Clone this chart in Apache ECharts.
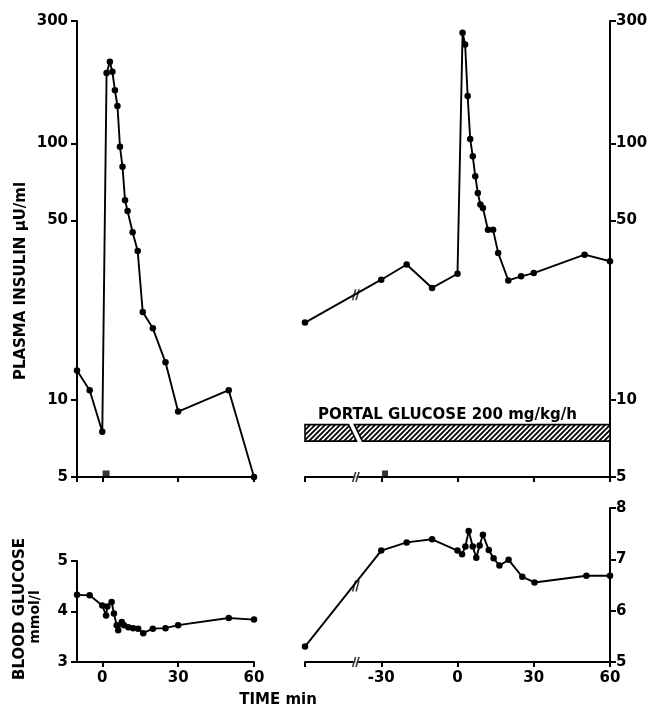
<!DOCTYPE html>
<html>
<head>
<meta charset="utf-8">
<script src="https://cdn.jsdelivr.net/npm/echarts@6/dist/echarts.min.js"></script>
<style>
  html, body { margin: 0; padding: 0; background: #fff; }
  #chart { width: 652px; height: 707px; }
</style>
</head>
<body>
<div id="chart"></div>
<script>
// plasma insulin, control run (min / µU/ml)
let insLeftTime = [-10, -5, 0, 1.7, 3, 4, 5, 6, 7, 8, 9, 10, 12, 14, 16, 20, 25, 30, 50, 60];
let insLeftValue = [13, 10.9, 7.5, 188, 208, 190, 161, 140, 97, 81, 60, 54.5, 45, 38, 22, 19, 14, 9.0, 10.9, 5];

// plasma insulin, portal glucose run
let insRightTime = [-60, -30, -20, -10, 0, 2, 3, 4, 5, 6, 7, 8, 9, 10, 12, 14, 16, 20, 25, 30, 50, 60];
let insRightValue = [20, 29.4, 33.7, 27.3, 31, 270, 243, 153, 104, 89, 74.5, 64, 57.7, 56, 46, 46, 37.4, 29.2, 30.3, 31.2, 36.8, 34.7];

// blood glucose, control run (mmol/l)
let gluLeftTime = [-10, -5, 0, 1.5, 2, 3.7, 4.6, 5.7, 6.3, 7.7, 8.6, 10.3, 12.2, 14.2, 16.2, 20, 25, 30, 50, 60];
let gluLeftValue = [4.33, 4.32, 4.12, 3.92, 4.1, 4.19, 3.96, 3.73, 3.63, 3.79, 3.73, 3.69, 3.67, 3.66, 3.57, 3.66, 3.67, 3.73, 3.87, 3.84];

// blood glucose, portal glucose run
let gluRightTime = [-60, -30, -20, -10, 0, 1.8, 3.1, 4.4, 6, 7.4, 8.7, 10, 12.3, 14.2, 16.5, 20.1, 25.5, 30.3, 50.7, 60];
let gluRightValue = [5.3, 7.17, 7.33, 7.39, 7.17, 7.1, 7.25, 7.55, 7.25, 7.03, 7.27, 7.48, 7.18, 7.02, 6.88, 6.99, 6.66, 6.55, 6.68, 6.68];

// axis ticks and labels
let insulinTicks = [5, 10, 50, 100, 300];
let gluLeftTicks = [3, 4, 5];
let gluRightTicks = [5, 6, 7, 8];
let timeLeftTicks = [-10, 0, 30, 60];
let timeLeftLabels = [0, 30, 60];
let timeRightTicks = [-60, -30, 0, 30, 60];
let timeRightLabels = [-30, 0, 30, 60];

// injection markers, axis breaks, infusion bar
let injectLeft = [[1.5, 5]];
let injectRight = [[-28.5, 5]];
let breakInsulin = [[-40, 25.7]];
let breakGlucose = [[-40, 6.48]];
let breakAxis = [[-40, 5]];
let infusionSpans = [[-60, -41.3], [-39, 60]];
let infusionLevel = [6.9, 8.0];
let infusionText = "PORTAL GLUCOSE 200 mg/kg/h";

let font = "DejaVu Sans";
let slashPath = "path://M0,10L3,0L4.6,0L1.6,10Z M3.4,10L6.4,0L8,0L5,10Z";

// hatch pattern for the infusion bar
let hatch = document.createElement("canvas");
hatch.width = 5;
hatch.height = 5;
let hc = hatch.getContext("2d");
hc.fillStyle = "#fff";
hc.fillRect(0, 0, 5, 5);
hc.strokeStyle = "#000";
hc.lineWidth = 1.8;
hc.beginPath();
hc.moveTo(-1, 6);
hc.lineTo(6, -1);
hc.moveTo(-1, 1);
hc.lineTo(1, -1);
hc.moveTo(4, 6);
hc.lineTo(6, 4);
hc.stroke();

function zip(xs, ys) {
  return xs.map((x, i) => [x, ys[i]]);
}

function timeAxis(gridIndex, min, max, ticks, labels) {
  return {
    type: "value",
    gridIndex: gridIndex,
    min: min,
    max: max,
    position: "bottom",
    axisLine: { show: true, onZero: false, lineStyle: { color: "#000", width: 2 } },
    axisTick: { show: true, customValues: ticks, length: 5, lineStyle: { color: "#000", width: 2 } },
    axisLabel: {
      show: labels.length > 0,
      customValues: labels,
      margin: 9,
      color: "#000",
      fontFamily: font,
      fontWeight: "bold",
      fontSize: 15,
    },
    splitLine: { show: false },
  };
}

function levelAxis(gridIndex, type, min, max, ticks, position) {
  let axis = {
    type: type,
    gridIndex: gridIndex,
    min: min,
    max: max,
    position: position,
    axisLine: { show: true, onZero: false, lineStyle: { color: "#000", width: 2 } },
    axisTick: { show: true, customValues: ticks, length: 6, lineStyle: { color: "#000", width: 2 } },
    axisLabel: {
      customValues: ticks,
      margin: position === "left" ? 9 : 6,
      color: "#000",
      fontFamily: font,
      fontWeight: "bold",
      fontSize: 15,
    },
    splitLine: { show: false },
  };
  if (type === "log") axis.logBase = 10;
  return axis;
}

function lineSeries(idx, xs, ys) {
  return {
    type: "line",
    xAxisIndex: idx,
    yAxisIndex: idx,
    data: zip(xs, ys),
    symbol: "circle",
    symbolSize: 6.5,
    showSymbol: true,
    animation: false,
    clip: false,
    itemStyle: { color: "#000" },
    lineStyle: { color: "#000", width: 1.9 },
    z: 3,
  };
}

function markSeries(idx, data, symbol, size, color, offset, z) {
  return {
    type: "scatter",
    xAxisIndex: idx,
    yAxisIndex: idx,
    data: data,
    symbol: symbol,
    symbolSize: size,
    symbolOffset: offset || [0, 0],
    itemStyle: { color: color },
    clip: false,
    animation: false,
    silent: true,
    z: z,
  };
}

let chart = echarts.init(document.getElementById("chart"), null, { renderer: "canvas" });

let option = {
  backgroundColor: "#fff",
  animation: false,
  grid: [
    { left: 77, top: 21, width: 177, height: 456, outerBoundsMode: "none" },
    { left: 305, top: 21, width: 305, height: 456, outerBoundsMode: "none" },
    { left: 77, top: 561, width: 177, height: 101, outerBoundsMode: "none" },
    { left: 305, top: 508, width: 305, height: 154, outerBoundsMode: "none" },
  ],
  xAxis: [
    timeAxis(0, -10, 60, timeLeftTicks, []),
    timeAxis(1, -60, 60, timeRightTicks, []),
    timeAxis(2, -10, 60, timeLeftTicks.slice(1), timeLeftLabels),
    timeAxis(3, -60, 60, timeRightTicks, timeRightLabels),
  ],
  yAxis: [
    levelAxis(0, "log", 5, 300, insulinTicks, "left"),
    levelAxis(1, "log", 5, 300, insulinTicks, "right"),
    levelAxis(2, "value", 3, 5, gluLeftTicks, "left"),
    levelAxis(3, "value", 5, 8, gluRightTicks, "right"),
  ],
  graphic: [
    {
      type: "text",
      x: 21,
      y: 281,
      rotation: Math.PI / 2,
      style: { text: "PLASMA INSULIN μU/ml", font: "bold 15px " + font, fill: "#000", align: "center", verticalAlign: "middle" },
    },
    {
      type: "text",
      x: 20,
      y: 609,
      rotation: Math.PI / 2,
      style: { text: "BLOOD GLUCOSE", font: "bold 15px " + font, fill: "#000", align: "center", verticalAlign: "middle" },
    },
    {
      type: "text",
      x: 35,
      y: 617,
      rotation: Math.PI / 2,
      style: { text: "mmol/l", font: "bold 14px " + font, fill: "#000", align: "center", verticalAlign: "middle" },
    },
    {
      type: "text",
      x: 278,
      y: 700,
      style: { text: "TIME min", font: "bold 15px " + font, fill: "#000", align: "center", verticalAlign: "middle" },
    },
    {
      type: "text",
      x: 318,
      y: 415,
      style: { text: infusionText, font: "bold 15px " + font, fill: "#000", align: "left", verticalAlign: "middle" },
    },
  ],
  series: [
    lineSeries(0, insLeftTime, insLeftValue),
    lineSeries(1, insRightTime, insRightValue),
    lineSeries(2, gluLeftTime, gluLeftValue),
    lineSeries(3, gluRightTime, gluRightValue),
    // hatched infusion bar
    {
      type: "custom",
      xAxisIndex: 1,
      yAxisIndex: 1,
      data: infusionSpans,
      encode: { x: [0, 1] },
      animation: false,
      silent: true,
      renderItem: function (params, api) {
        let p0 = api.coord([api.value(0), infusionLevel[1]]);
        let p1 = api.coord([api.value(1), infusionLevel[0]]);
        let top = p0[1];
        let bottom = p1[1];
        let s = 4;
        let pts;
        if (params.dataIndex === 0) {
          pts = [[p0[0], top], [p1[0] - s, top], [p1[0] + s, bottom], [p0[0], bottom]];
        } else {
          pts = [[p0[0] - s, top], [p1[0], top], [p1[0], bottom], [p0[0] + s, bottom]];
        }
        return {
          type: "polygon",
          shape: { points: pts },
          style: { fill: { image: hatch, repeat: "repeat" }, stroke: "#000", lineWidth: 1.6 },
        };
      },
    },
    markSeries(0, injectLeft, "rect", [7, 7], "#000", [0, -3], 4),
    markSeries(1, injectRight, "rect", [6, 7], "#000", [0, -3], 4),
    markSeries(1, breakInsulin, slashPath, [8, 11], "#000", null, 5),
    markSeries(3, breakGlucose, slashPath, [8, 11], "#000", null, 5),
    markSeries(1, breakAxis, "rect", [5, 5], "#fff", null, 4),
    markSeries(1, breakAxis, slashPath, [8, 10], "#000", null, 5),
    markSeries(3, breakAxis, "rect", [5, 5], "#fff", null, 4),
    markSeries(3, breakAxis, slashPath, [8, 10], "#000", null, 5),
  ],
};

chart.setOption(option);
</script>
</body>
</html>
